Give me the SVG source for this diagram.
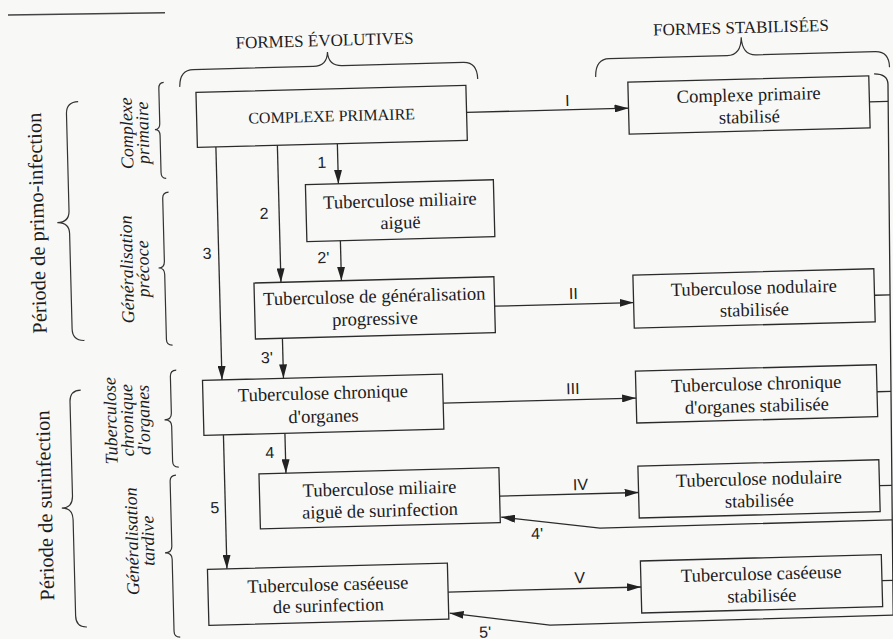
<svg xmlns="http://www.w3.org/2000/svg" width="893" height="639" viewBox="0 0 893 639">
<style>
.bg{fill:#f8f8f7}
.box{fill:none;stroke:#2b2b2b;stroke-width:1.3}
.t{font-family:"Liberation Serif","Times New Roman",serif;font-size:18.6px;fill:#1c1c1c;text-anchor:middle}
.cap{font-size:16px}
.title{font-family:"Liberation Serif","Times New Roman",serif;font-size:17px;fill:#1c1c1c;text-anchor:middle}
.it{font-family:"Liberation Serif","Times New Roman",serif;font-style:italic;font-size:18px;fill:#1c1c1c;text-anchor:middle}
.per{font-family:"Liberation Serif","Times New Roman",serif;font-size:20.5px;fill:#1c1c1c;text-anchor:middle}
.lbl{font-family:"Liberation Sans",Arial,sans-serif;font-size:16px;fill:#222;text-anchor:middle}
.ln{fill:none;stroke:#2b2b2b;stroke-width:1.3}
.arr{marker-end:url(#ah)}
.br{fill:none;stroke:#333;stroke-width:1.2}
</style>
<defs>
<marker id="ah" viewBox="0 0 14 8" refX="14" refY="4" markerWidth="14" markerHeight="8" markerUnits="userSpaceOnUse" orient="auto"><path d="M0,0 L14,4 L0,8 z" fill="#222"/></marker>
</defs>
<rect class="bg" x="0" y="0" width="893" height="639"/>
<path d="M8,15 L165,12.7" fill="none" stroke="#444" stroke-width="1.4"/>
<g transform="rotate(-1.5 446 320)">
  <g id="headings">
    <text class="title" x="332" y="43">FORMES ÉVOLUTIVES</text>
    <text class="title" x="748.5" y="41">FORMES STABILISÉES</text>
    <path class="br" d="M186,80 Q186,63 200,63 L320,63 Q334,63 334.5,49 Q335,63 349,63 L470,63 Q484,63 484,80"/>
    <path class="br" d="M602,81 Q602,63 616,63 L734,63 Q748,63 748.5,45 Q749,63 763,63 L882,63 Q896,63 896,79"/>
  </g>
  <g id="periods">
    <text class="per" transform="translate(46.5 212.5) rotate(-90)">Période de primo-infection</text>
    <path class="br" d="M84,92 Q72,92 72,104 L72,201 Q72,212.5 60,212.5 Q72,212.5 72,224 L72,319 Q72,331 84,331"/>
    <text class="per" transform="translate(47 495) rotate(-90)">Période de surinfection</text>
    <path class="br" d="M79,380.5 Q68,380.5 68,392 L68,486 Q68,498 57,498 Q68,498 68,510 L68,606 Q68,617.5 79,617.5"/>
  </g>
  <g id="stages">
    <text class="it" transform="translate(137.6 125) rotate(-90)">Complexe</text>
    <text class="it" transform="translate(153.6 125) rotate(-90)">primaire</text>
    <path class="br" d="M170,75 Q165,75 165,81 L165,116 Q165,122 160,122 Q165,122 165,128 L165,165 Q165,171 170,171"/>
    <text class="it" transform="translate(134.3 261) rotate(-90)">Généralisation</text>
    <text class="it" transform="translate(150.3 261) rotate(-90)">précoce</text>
    <path class="br" d="M172,185 Q166,185 166,191 L166,254 Q166,260.5 160,260.5 Q166,260.5 166,267 L166,332 Q166,338 172,338"/>
    <text class="it" transform="translate(114 412) rotate(-90)">Tuberculose</text>
    <text class="it" transform="translate(130.5 412) rotate(-90)">chronique</text>
    <text class="it" transform="translate(147 412) rotate(-90)">d'organes</text>
    <path class="br" d="M175,363 Q169,363 169,369 L169,406 Q169,412.5 162,412.5 Q169,412.5 169,419 L169,454 Q169,460 175,460"/>
    <text class="it" transform="translate(132.2 533) rotate(-90)">Généralisation</text>
    <text class="it" transform="translate(148.2 533) rotate(-90)">tardive</text>
    <path class="br" d="M172,468 Q166,468 166,474 L166,539 Q166,545.5 159,545.5 Q166,545.5 166,552 L166,624 Q166,630 172,630"/>
  </g>
  <g id="nodes">
    <g id="complexe-primaire"><rect class="box" x="202" y="86" width="270" height="55"/><text class="t cap" x="337" y="118.5">COMPLEXE PRIMAIRE</text></g>
    <g id="complexe-primaire-stabilise"><rect class="box" x="634" y="87" width="241" height="52"/><text class="t" x="754.5" y="109">Complexe primaire</text><text class="t" x="754.5" y="131">stabilisé</text></g>
    <g id="miliaire-aigue"><rect class="box" x="309" y="181" width="188" height="57"/><text class="t" x="403" y="205.5">Tuberculose miliaire</text><text class="t" x="403" y="227.5">aiguë</text></g>
    <g id="generalisation-progressive"><rect class="box" x="255" y="278" width="240" height="56"/><text class="t" x="375" y="300.5">Tuberculose de généralisation</text><text class="t" x="375" y="323">progressive</text></g>
    <g id="nodulaire-stabilisee-1"><rect class="box" x="634" y="280" width="241" height="53"/><text class="t" x="754.5" y="302">Tuberculose nodulaire</text><text class="t" x="754.5" y="324">stabilisée</text></g>
    <g id="chronique-organes"><rect class="box" x="201" y="374" width="240" height="55"/><text class="t" x="321" y="396">Tuberculose chronique</text><text class="t" x="321" y="419">d'organes</text></g>
    <g id="chronique-organes-stabilisee"><rect class="box" x="634" y="376" width="241" height="52"/><text class="t" x="754.5" y="398">Tuberculose chronique</text><text class="t" x="754.5" y="420">d'organes stabilisée</text></g>
    <g id="miliaire-surinfection"><rect class="box" x="255" y="469" width="240" height="55"/><text class="t" x="375" y="493">Tuberculose miliaire</text><text class="t" x="375" y="515">aiguë de surinfection</text></g>
    <g id="nodulaire-stabilisee-2"><rect class="box" x="634" y="471" width="241" height="52"/><text class="t" x="754.5" y="493">Tuberculose nodulaire</text><text class="t" x="754.5" y="515">stabilisée</text></g>
    <g id="caseeuse-surinfection"><rect class="box" x="201" y="563" width="240" height="56"/><text class="t" x="321" y="587.5">Tuberculose caséeuse</text><text class="t" x="321" y="608.5">de surinfection</text></g>
    <g id="caseeuse-stabilisee"><rect class="box" x="634" y="566" width="241" height="52"/><text class="t" x="754.5" y="588">Tuberculose caséeuse</text><text class="t" x="754.5" y="610">stabilisée</text></g>
  </g>
  <g id="connectors">
    <path class="ln arr" d="M472,113 L634,113"/>
    <path class="ln arr" d="M495,307.5 L634,307.5"/>
    <path class="ln arr" d="M441,403 L634,403"/>
    <path class="ln arr" d="M495,497.5 L634,497.5"/>
    <path class="ln arr" d="M441,592 L634,592"/>
    <path class="ln arr" d="M342,141 L342,181"/>
    <path class="ln arr" d="M282,141 L282,278"/>
    <path class="ln arr" d="M220.5,141 L220.5,374"/>
    <path class="ln arr" d="M342.5,238 L342.5,278"/>
    <path class="ln arr" d="M282,334 L282,374"/>
    <path class="ln arr" d="M282,429 L282,469"/>
    <path class="ln arr" d="M220.5,429 L220.5,563"/>
    <path class="ln" d="M875,113 L893.7,113 M875,306.5 L890.5,306.5 M875,403 L889,403 M875,497 L887.4,497 M875,592 L885.9,592"/>
    <path class="ln" d="M880.4,85.2 Q894,85.5 894,96 L885.3,626.7"/>
    <path class="ln arr" d="M886.9,531.5 L594.5,532 L496,518.5"/>
    <path class="ln arr" d="M885.3,626.7 L542,627.7 L442,613.2"/>
    <text class="lbl" x="326" y="164.8">1</text>
    <text class="lbl" x="267" y="214.2">2</text>
    <text class="lbl" x="209" y="252.7">3</text>
    <text class="lbl" x="325" y="259.8">2'</text>
    <text class="lbl" x="266" y="358.3">3'</text>
    <text class="lbl" x="266.5" y="453.4">4</text>
    <text class="lbl" x="210" y="507">5</text>
    <text class="lbl" x="573" y="109.2">I</text>
    <text class="lbl" x="574" y="302.3">II</text>
    <text class="lbl" x="571" y="397.3">III</text>
    <text class="lbl" x="576" y="493.5">IV</text>
    <text class="lbl" x="573" y="586.5">V</text>
    <text class="lbl" x="531.5" y="541.4">4'</text>
    <text class="lbl" x="477" y="638.5">5'</text>
  </g>
</g>
</svg>
